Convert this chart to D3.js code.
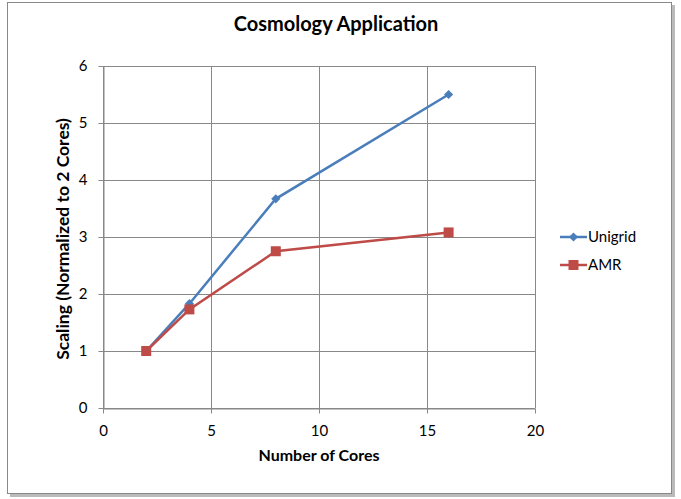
<!DOCTYPE html>
<html>
<head>
<meta charset="utf-8">
<script src="https://cdn.jsdelivr.net/npm/d3@7"></script>
<style>
  body { margin: 0; background: #fff; }
  svg { font-family: Lato, "Open Sans", sans-serif; }
</style>
</head>
<body>
<svg id="chart" width="681" height="499"></svg>
<script>
// data
const cores = [2, 4, 8, 16];
const unigrid = [1, 1.83, 3.67, 5.5];
const amr = [1, 1.73, 2.75, 3.08];
const xTicks = [0, 5, 10, 15, 20];
const yTicks = [0, 1, 2, 3, 4, 5, 6];
const seriesNames = ['Unigrid', 'AMR'];
const seriesColors = ['#4a7ebb', '#be4b48'];

const svg = d3.select('#chart');

// frame with a light shadow
svg.append('rect').attr('x', 10).attr('y', 5).attr('width', 665).attr('height', 492).attr('fill', '#bbb');
svg.append('rect').attr('x', 7.5).attr('y', 2.5).attr('width', 664).attr('height', 491)
  .attr('fill', '#fff').attr('stroke', '#888').attr('stroke-width', 1);

const plotL = 103, plotR = 535, plotT = 66, plotB = 408;
const x = d3.scaleLinear().domain([0, 20]).range([plotL, plotR]);
const y = d3.scaleLinear().domain([0, 6]).range([plotB, plotT]);

// gridlines
const grid = svg.append('g').attr('stroke', '#888').attr('stroke-width', 1);
xTicks.forEach(t => grid.append('line')
  .attr('x1', Math.round(x(t)) + 0.5).attr('x2', Math.round(x(t)) + 0.5)
  .attr('y1', plotT).attr('y2', plotB));
yTicks.forEach(t => grid.append('line')
  .attr('x1', plotL).attr('x2', plotR)
  .attr('y1', Math.round(y(t)) + 0.5).attr('y2', Math.round(y(t)) + 0.5));

// axes
const xAxis = svg.append('g').attr('transform', `translate(0,${Math.round(plotB) + 0.5})`)
  .call(d3.axisBottom(x).tickValues(xTicks).tickFormat(d3.format('d')).tickSize(5).tickPadding(12).tickSizeOuter(0));
const yAxis = svg.append('g').attr('transform', `translate(${Math.round(plotL) + 0.5},0)`)
  .call(d3.axisLeft(y).tickValues(yTicks).tickFormat(d3.format('d')).tickSize(5).tickPadding(11).tickSizeOuter(0));
[xAxis, yAxis].forEach(a => {
  a.selectAll('path, line').attr('stroke', '#888');
  a.selectAll('text').attr('font-size', 15).attr('fill', '#000').attr('font-family', 'Lato, "Open Sans", sans-serif');
});

// markers: diamond for Unigrid, square for AMR
const markerPath = i => i === 0 ? d3.symbol(d3.symbolSquare, 42)() : d3.symbol(d3.symbolSquare, 100)();
const markerRot = i => i === 0 ? ' rotate(45)' : '';

// series
const line = d3.line().x(d => x(d[0])).y(d => y(d[1]));
[unigrid, amr].forEach((vals, i) => {
  const pts = cores.map((c, j) => [c, vals[j]]);
  svg.append('path').datum(pts).attr('d', line)
    .attr('fill', 'none').attr('stroke', seriesColors[i]).attr('stroke-width', 2.5);
  svg.append('g').selectAll('path').data(pts).join('path')
    .attr('transform', d => `translate(${x(d[0])},${y(d[1])})${markerRot(i)}`)
    .attr('d', markerPath(i)).attr('fill', seriesColors[i]);
});

// legend
seriesNames.forEach((name, i) => {
  const ly = 237 + i * 28;
  const g = svg.append('g');
  g.append('line').attr('x1', 560).attr('x2', 587).attr('y1', ly).attr('y2', ly)
    .attr('stroke', seriesColors[i]).attr('stroke-width', 2.5);
  g.append('path').attr('transform', `translate(573.5,${ly})${markerRot(i)}`)
    .attr('d', markerPath(i)).attr('fill', seriesColors[i]);
  g.append('text').attr('x', 588).attr('y', ly).attr('dy', '0.36em')
    .attr('font-size', 15).text(name);
});

// titles
svg.append('text').attr('x', 336).attr('y', 31).attr('text-anchor', 'middle')
  .attr('font-size', 20).attr('font-weight', 'bold').text('Cosmology Application');
svg.append('text').attr('x', 319).attr('y', 461).attr('text-anchor', 'middle')
  .attr('font-size', 16).attr('font-weight', 'bold').text('Number of Cores');
svg.append('text').attr('transform', 'translate(63,239) rotate(-90)').attr('text-anchor', 'middle')
  .attr('dy', '0.36em').attr('font-size', 17.5).attr('font-weight', 'bold').text('Scaling (Normalized to 2 Cores)');
</script>
</body>
</html>
